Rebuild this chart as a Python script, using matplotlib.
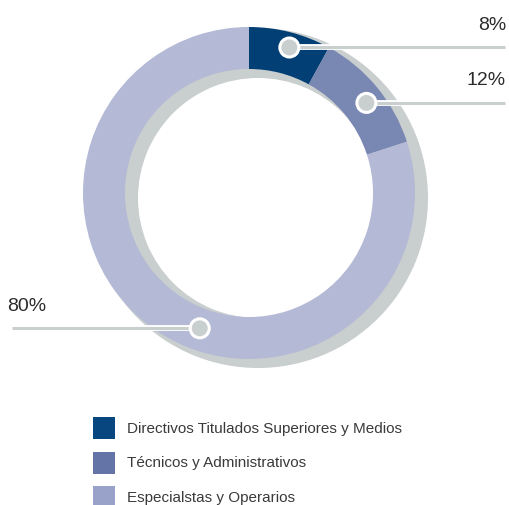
import matplotlib.pyplot as plt
import numpy as np
from matplotlib.patches import Rectangle, Circle

categories = ["Directivos Titulados Superiores y Medios",
              "Técnicos y Administrativos",
              "Especialstas y Operarios"]
shares = [8, 12, 80]
labels = ["8%", "12%", "80%"]

ring_colors = ["#023f75", "#7987b3", "#b4b9d6"]
legend_colors = ["#08467f", "#6474a7", "#99a3c9"]
shadow_color = "#c9cecf"
line_color = "#c9cecf"
text_color = "#2b2b2b"

# figure in pixel units, y measured upwards
W, H = 509, 505
fig = plt.figure(figsize=(W / 100, H / 100), dpi=100)
ax = fig.add_axes([0, 0, 1, 1])

cx, cy = 249, H - 193
r_out, r_in = 166, 124

# shadow ring, a bit bigger and pushed down-right
ax.pie([1], colors=[shadow_color], center=(cx + 9, cy - 5), radius=170,
       wedgeprops=dict(width=50, linewidth=0), frame=True)

wedges, _ = ax.pie(shares, colors=ring_colors, center=(cx, cy), radius=r_out,
                   startangle=90, counterclock=False,
                   wedgeprops=dict(width=r_out - r_in, linewidth=0), frame=True)
ax.set_xlim(0, W)
ax.set_ylim(0, H)
ax.set_aspect("equal")
ax.axis("off")

# callouts: angle (clockwise from top) and radius of marker, label side
marker_angles = [15.5, 52.5, 200]
marker_r = [151, 148, 144]
sides = ["right", "right", "left"]

for lab, ang, rr, side in zip(labels, marker_angles, marker_r, sides):
    a = np.deg2rad(ang)
    mx = cx + rr * np.sin(a)
    my = cy + rr * np.cos(a)
    if side == "right":
        x0, x1 = mx, 505
        tx, ha = 506, "right"
    else:
        x0, x1 = 12, mx
        tx, ha = 7, "left"
    ax.plot([x0, x1], [my, my], color="white", lw=4.2, solid_capstyle="butt", zorder=5)
    ax.plot([x0, x1], [my, my], color=line_color, lw=2.2, solid_capstyle="butt", zorder=6)
    ax.add_patch(Circle((mx, my), 9.5, facecolor=line_color, edgecolor="white",
                        linewidth=2.2, zorder=7))
    ax.text(tx, my + 22, lab, ha=ha, va="center", fontsize=14,
            family="Liberation Sans", color=text_color)

# legend
for i, (cat, col) in enumerate(zip(categories, legend_colors)):
    ytop = 417 + i * 34.5
    ax.add_patch(Rectangle((93, H - ytop - 22), 22, 22, facecolor=col, linewidth=0))
    ax.text(127, H - ytop - 12, cat, ha="left", va="center", fontsize=11,
            family="Liberation Sans", color="#3a3a3a")

fig.savefig("out.png", dpi=100)
